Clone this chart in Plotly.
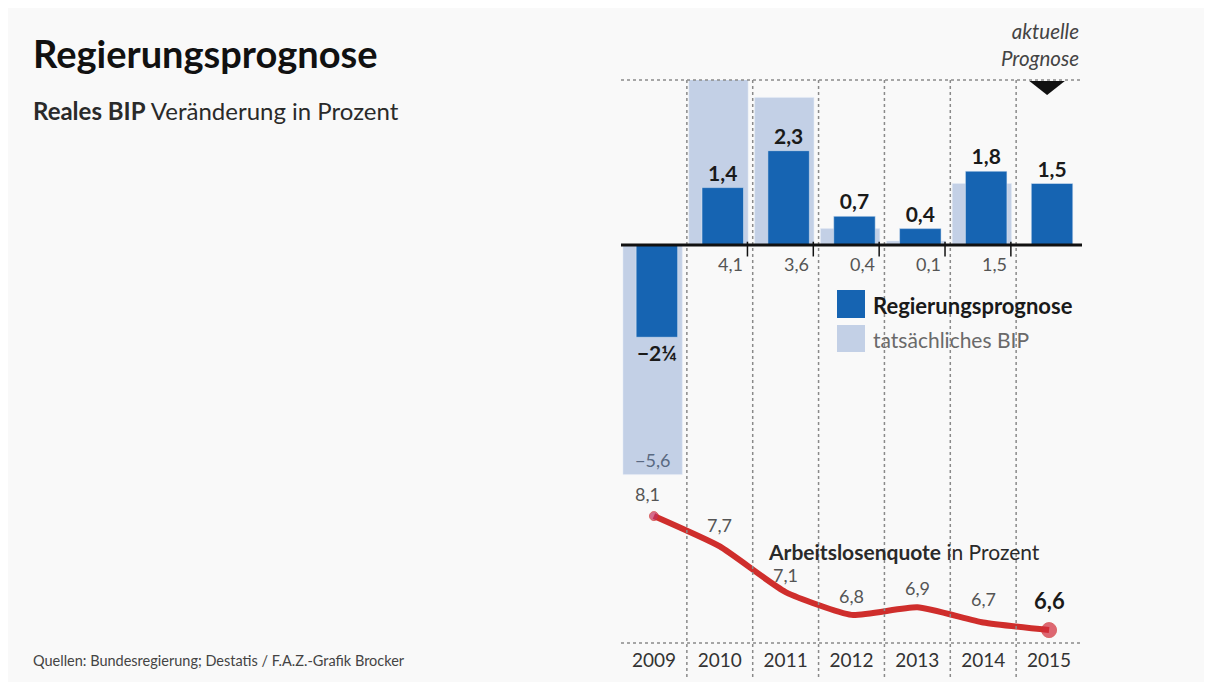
import plotly.graph_objects as go

# Data
years = ["2009", "2010", "2011", "2012", "2013", "2014", "2015"]
prognose = [-2.25, 1.4, 2.3, 0.7, 0.4, 1.8, 1.5]
prognose_labels = ["−2¼", "1,4", "2,3", "0,7", "0,4", "1,8", "1,5"]
tatsaechlich = [-5.6, 4.1, 3.6, 0.4, 0.1, 1.5, None]
tatsaechlich_labels = ["−5,6", "4,1", "3,6", "0,4", "0,1", "1,5", ""]
arbeitslos = [8.1, 7.7, 7.1, 6.8, 6.9, 6.7, 6.6]
arbeitslos_labels = ["8,1", "7,7", "7,1", "6,8", "6,9", "6,7", "6,6"]

FONT = "Lato, Roboto, sans-serif"
DARK = "#1664b2"
LIGHT = "#c3d0e6"
RED = "#cf2e2c"
BG = "#f9f9f9"
INK = "#1a1a1a"
GREY = "#555555"
DOT = "#8a8a8a"

# the page puts the figure 8px in from the window corner
OFF = 8
W, H = 1212 - OFF, 682 - OFF
# plot area in window pixels (used for placing the free text)
L, R, T, B = 621, 1082, 80, 643


def px(x):
    return (x - L) / (R - L)


def py(y):
    return (B - y) / (B - T)


xs = list(range(len(years)))

fig = go.Figure()
fig.add_trace(go.Bar(
    x=xs, y=tatsaechlich, marker_color=LIGHT, width=0.9, offset=-0.47,
    yaxis="y", hoverinfo="skip",
))
fig.add_trace(go.Bar(
    x=xs, y=prognose, marker_color=DARK, width=0.63, offset=-0.27,
    text=prognose_labels, textposition="outside", constraintext="none",
    textfont=dict(size=21, color=INK, family=FONT, weight="bold"),
    cliponaxis=False, yaxis="y",
))
fig.add_trace(go.Scatter(
    x=xs, y=arbeitslos, mode="lines+markers", yaxis="y2",
    line=dict(color=RED, width=6, shape="spline", smoothing=0.5),
    marker=dict(size=[9, 0, 0, 0, 0, 0, 15],
                color=["#c4305e", RED, RED, RED, RED, RED, "#d22a3a"]),
    cliponaxis=False,
))

ann = []
# labels of the actual GDP bars
for i, (v, t) in enumerate(zip(tatsaechlich, tatsaechlich_labels)):
    if v is None:
        continue
    if v < 0:
        ann.append(dict(x=i - 0.02, y=v, yref="y", text=t, showarrow=False,
                        yanchor="bottom", yshift=2,
                        font=dict(size=18, color="#5a6a82", family=FONT)))
    else:
        ann.append(dict(x=i + 0.39, y=0, yref="y", text=t, showarrow=False,
                        xanchor="right", yanchor="top", yshift=-6,
                        font=dict(size=18, color=GREY, family=FONT)))

# labels of the unemployment line
shifts = [22, 21, 17, 19, 19, 23, 30]
for i, (v, t) in enumerate(zip(arbeitslos, arbeitslos_labels)):
    last = i == len(arbeitslos) - 1
    ann.append(dict(x=i - (0.1 if i == 0 else 0), y=v, yref="y2", text=t,
                    showarrow=False, yshift=shifts[i],
                    font=dict(size=22 if last else 18, color=INK if last else GREY,
                              family=FONT, weight="bold" if last else "normal")))

ann += [
    dict(x=px(31), y=py(53), text="<b>Regierungsprognose</b>",
         font=dict(size=38, color="#111111")),
    dict(x=px(31), y=py(110), text="<b>Reales BIP</b> Veränderung in Prozent",
         font=dict(size=24, color="#2a2a2a")),
    dict(x=px(31), y=py(660),
         text="Quellen: Bundesregierung; Destatis / F.A.Z.-Grafik Brocker",
         font=dict(size=14.5, color="#444444")),
    dict(x=px(1081), y=py(45), xanchor="right", align="right",
         text="<i>aktuelle<br>Prognose</i>", font=dict(size=20.5, color="#444444")),
    dict(x=px(871), y=py(305), text="<b>Regierungsprognose</b>",
         font=dict(size=22, color=INK)),
    dict(x=px(871), y=py(339), text="tatsächliches BIP",
         font=dict(size=21, color="#6a6a6a")),
    dict(x=px(766), y=py(551), text="<b>Arbeitslosenquote</b> in Prozent",
         font=dict(size=21, color="#2a2a2a")),
]
for a in ann[-7:]:
    a.update(xref="paper", yref="paper", showarrow=False,
             xanchor=a.get("xanchor", "left"), yanchor="middle")
    a["font"]["family"] = FONT
for a in ann:
    a.setdefault("xref", "x")

shapes = []
# dotted column separators
for i in range(len(years) - 1):
    shapes.append(dict(type="line", xref="x", yref="paper", x0=i + 0.5, x1=i + 0.5,
                       y0=1, y1=py(677), line=dict(color=DOT, width=1.5, dash="dot")))
# dotted top and bottom rules
for yy in (1, 0):
    shapes.append(dict(type="line", xref="paper", yref="paper", x0=0, x1=1,
                       y0=yy, y1=yy, line=dict(color=DOT, width=1.5, dash="dot")))
# zero line and small ticks
shapes.append(dict(type="line", xref="paper", yref="y", x0=0, x1=1, y0=0, y1=0,
                   line=dict(color="#111111", width=3), layer="above"))
for i in range(1, 6):
    shapes.append(dict(type="line", xref="x", yref="y", x0=i + 0.42, x1=i + 0.42,
                       y0=0.08, y1=-0.28, line=dict(color="#111111", width=1.5)))
# legend swatches
shapes.append(dict(type="rect", xref="paper", yref="paper", x0=px(837), x1=px(865),
                   y0=py(318), y1=py(290), fillcolor=DARK, line_width=0))
shapes.append(dict(type="rect", xref="paper", yref="paper", x0=px(837), x1=px(865),
                   y0=py(352), y1=py(325), fillcolor=LIGHT, line_width=0))
# "aktuelle Prognose" pointer
shapes.append(dict(type="path", xref="x", yref="paper",
                   path=f"M 5.70,{py(81)} L 6.24,{py(81)} L 5.97,{py(95)} Z",
                   fillcolor="#111111", line_width=0))

fig.update_layout(
    width=W, height=H,
    paper_bgcolor=BG, plot_bgcolor=BG,
    margin=dict(l=L - OFF, r=W - (R - OFF), t=T - OFF, b=H - (B - OFF)),
    barmode="overlay", showlegend=False,
    font=dict(family=FONT, color=INK),
    annotations=ann, shapes=shapes,
    xaxis=dict(range=[-0.5, 6.5], tickvals=xs, ticktext=years, anchor="y2",
               showgrid=False, zeroline=False, showline=False, ticks="",
               tickfont=dict(size=19, color="#333333", family=FONT),
               ticklabelstandoff=4),
    yaxis=dict(domain=[py(478), 1], range=[-(478 - 245) / 41, (245 - 80) / 41],
               visible=False, showgrid=False, zeroline=False),
    yaxis2=dict(domain=[0, py(478)], range=[6.43, 6.43 + (643 - 478) / 76],
                visible=False, showgrid=False, zeroline=False),
)

fig.write_html("out.html")
